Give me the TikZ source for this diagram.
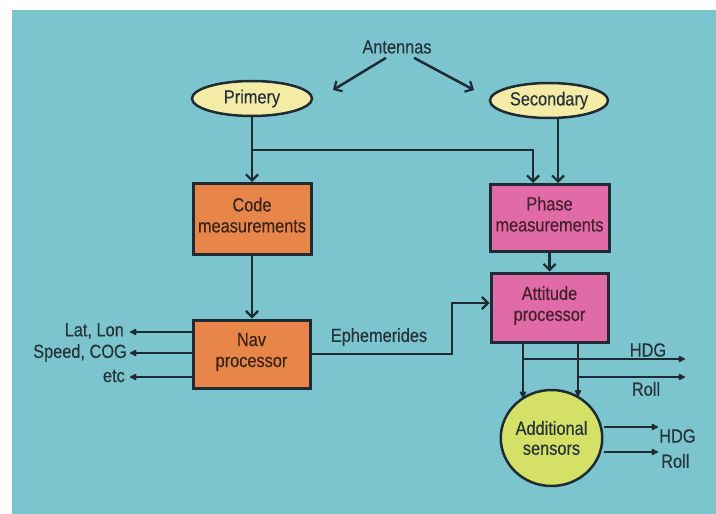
\documentclass[tikz,border=0pt]{standalone}
\usepackage{fontspec}
\setmainfont{Liberation Sans}[FakeStretch=0.86,FakeBold=0.4]
\usetikzlibrary{arrows.meta,shapes.geometric}
\definecolor{bgc}{HTML}{7DC5CE}
\definecolor{linec}{HTML}{1E2B33}
\definecolor{textc}{HTML}{26333B}
\definecolor{otext}{HTML}{3A2418}
\definecolor{ptext}{HTML}{45202F}
\definecolor{orangec}{HTML}{E8864A}
\definecolor{pinkc}{HTML}{E06BA6}
\definecolor{ellc}{HTML}{F4ECA6}
\definecolor{circc}{HTML}{D5E066}
\newcommand{\figfont}{\fontsize{19}{21}\selectfont}
\newcommand{\circfont}{\fontsize{19}{20}\selectfont}
\tikzset{
  box/.style={draw=linec, line width=3pt, align=center, inner sep=0pt, font=\figfont, text depth=8pt},
  oval/.style={ellipse, draw=linec, line width=2.5pt, fill=ellc, inner sep=0pt, text=textc, font=\figfont,
     minimum width=120pt, minimum height=35pt},
  lbl/.style={inner sep=0pt, text=textc, font=\figfont},
  ln/.style={draw=linec, line width=2.5pt},
  openarr/.style={ln, -{Straight Barb[length=6pt,width=12pt,line width=2.2pt]}},
  fillarr/.style={ln, -{Latex[round,length=8pt,width=8pt]}}
}
\begin{document}
\begin{tikzpicture}[x=1pt,y=-1pt]
\useasboundingbox (0,0) rectangle (716,514);
\fill[white] (0,0) rectangle (716,514);
\fill[bgc] (12,10) rectangle (716,514);

% antennas
\node[lbl] (ant) at (397,47) {Antennas};
\node[oval] (prim) at (252,98.5) {Primery};
\node[oval, minimum width=118pt] (sec) at (549,100.5) {Secondary};
\coordinate (aL) at (333,90);
\coordinate (aR) at (474,90);
\draw[openarr] ([xshift=-11pt,yshift=-4pt]ant.south) -- (aL);
\draw[openarr] ([xshift=17pt,yshift=-4pt]ant.south) -- (aR);

% boxes
\node[box, fill=orangec, text=otext, minimum width=118pt, minimum height=71pt] (code) at (252,219) {Code\\measurements};
\node[box, fill=pinkc, text=ptext, minimum width=119pt, minimum height=67pt] (phase) at (549.5,218) {Phase\\measurements};
\node[box, fill=orangec, text=otext, minimum width=117pt, minimum height=68pt] (nav) at (251.5,354) {Nav\\processor};
\node[box, fill=pinkc, text=ptext, minimum width=117pt, minimum height=69pt] (att) at (549.5,307.5) {Attitude\\processor};
\node[ellipse, draw=linec, line width=2.5pt, fill=circc, inner sep=0pt, align=center, text=textc, font=\circfont,
      minimum width=91pt, minimum height=96pt] (circ) at (551.5,438) {Additional\\sensors};

% antenna feeds
\coordinate (j1) at (252,150);
\draw[openarr] (prim.south) -- (prim.south |- code.north);
\draw[openarr] (j1) -| ([xshift=-16.5pt]phase.north);
\draw[openarr] ([xshift=9pt]sec.south) -- ([xshift=9pt]sec.south |- phase.north);

% vertical flows
\draw[openarr] (code.south) -- (code.south |- nav.north);
\draw[openarr] (phase.south) -- (att.north);

% ephemerides
\coordinate (ephc) at (452,354);
\draw[openarr] (nav.east) -- (ephc) |- ([yshift=4.5pt]att.west);
\node[lbl] (eph) at (379,337) {Ephemerides};

% nav outputs
\node[lbl, anchor=east] (lat) at (124,331) {Lat, Lon};
\node[lbl, anchor=east] (spd) at (127,353) {Speed, COG};
\node[lbl, anchor=east] (etc) at (125,376) {etc};
\coordinate (t1) at (130,332);
\coordinate (t2) at (130,353);
\coordinate (t3) at (130,377);
\draw[fillarr] (nav.west |- t1) -- (t1);
\draw[fillarr] (nav.west |- t2) -- (t2);
\draw[fillarr] (nav.west |- t3) -- (t3);

% attitude outputs
\coordinate (v1) at ([xshift=-26.5pt]att.south);
\coordinate (v2) at ([xshift=28.5pt]att.south);
\draw[fillarr] (v1) -- (v1 |- circ.127);
\draw[fillarr] (v2) -- (v2 |- circ.56);
\coordinate (h1) at (685,359);
\coordinate (r1) at (685,377);
\draw[fillarr] (v1 |- h1) -- (h1);
\draw[fillarr] (v2 |- r1) -- (r1);
\node[lbl] (hdg1) at (648,350) {HDG};
\node[lbl] (roll1) at (646,389) {Roll};

% sensor outputs
\coordinate (h2) at (658,427);
\coordinate (r2) at (658,452);
\draw[fillarr] ([yshift=11pt]circ.east) -- (h2);
\draw[fillarr] ([yshift=-14pt]circ.east) -- (r2);
\node[lbl, anchor=west] (hdg2) at (659,436) {HDG};
\node[lbl, anchor=west] (roll2) at (661,461) {Roll};
\end{tikzpicture}
\end{document}
